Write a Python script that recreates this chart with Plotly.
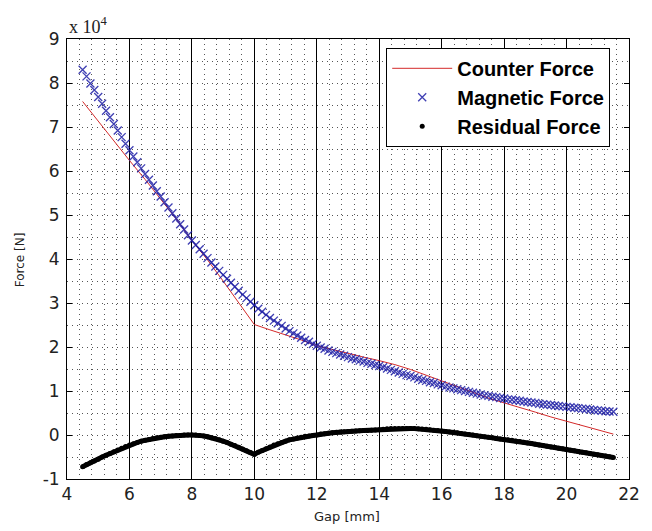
import plotly.graph_objects as go

# ---------------- data (Force in units of 1e4 N) ----------------
gap = [4.5, 4.625, 4.75, 4.875, 5.0, 5.125, 5.25, 5.375, 5.5, 5.625, 5.75, 5.875,
       6.0, 6.125, 6.25, 6.375, 6.5, 6.625, 6.75, 6.875, 7.0, 7.125, 7.25, 7.375,
       7.5, 7.625, 7.75, 7.875, 8.0, 8.125, 8.25, 8.375, 8.5, 8.625, 8.75, 8.875,
       9.0, 9.125, 9.25, 9.375, 9.5, 9.625, 9.75, 9.875, 10.0, 10.125, 10.25, 10.375,
       10.5, 10.625, 10.75, 10.875, 11.0, 11.125, 11.25, 11.375, 11.5, 11.625, 11.75,
       11.875, 12.0, 12.125, 12.25, 12.375, 12.5, 12.625, 12.75, 12.875, 13.0, 13.125,
       13.25, 13.375, 13.5, 13.625, 13.75, 13.875, 14.0, 14.125, 14.25, 14.375, 14.5,
       14.625, 14.75, 14.875, 15.0, 15.125, 15.25, 15.375, 15.5, 15.625, 15.75, 15.875,
       16.0, 16.125, 16.25, 16.375, 16.5, 16.625, 16.75, 16.875, 17.0, 17.125, 17.25,
       17.375, 17.5, 17.625, 17.75, 17.875, 18.0, 18.125, 18.25, 18.375, 18.5, 18.625,
       18.75, 18.875, 19.0, 19.125, 19.25, 19.375, 19.5, 19.625, 19.75, 19.875, 20.0,
       20.125, 20.25, 20.375, 20.5, 20.625, 20.75, 20.875, 21.0, 21.125, 21.25, 21.375,
       21.5]

magnetic_force = [8.30, 8.15, 7.99, 7.84, 7.68, 7.53, 7.37, 7.22, 7.07, 6.92, 6.77, 6.62,
                  6.47, 6.33, 6.20, 6.06, 5.93, 5.80, 5.67, 5.54, 5.42, 5.29, 5.17, 5.04,
                  4.92, 4.79, 4.67, 4.54, 4.42, 4.32, 4.22, 4.12, 4.02, 3.92, 3.83, 3.73,
                  3.64, 3.55, 3.46, 3.37, 3.28, 3.19, 3.11, 3.03, 2.95, 2.87, 2.80, 2.73,
                  2.66, 2.60, 2.54, 2.48, 2.42, 2.36, 2.31, 2.26, 2.21, 2.16, 2.12,
                  2.07, 2.03, 1.99, 1.96, 1.92, 1.89, 1.86, 1.83, 1.80, 1.77, 1.74,
                  1.72, 1.69, 1.67, 1.64, 1.62, 1.59, 1.57, 1.54, 1.51, 1.48, 1.45,
                  1.42, 1.39, 1.36, 1.34, 1.31, 1.28, 1.25, 1.23, 1.20, 1.18, 1.15,
                  1.13, 1.10, 1.08, 1.06, 1.04, 1.02, 1.00, 0.98, 0.96, 0.94, 0.92,
                  0.90, 0.89, 0.87, 0.86, 0.84, 0.83, 0.81, 0.80, 0.79, 0.78, 0.76,
                  0.75, 0.74, 0.73, 0.71, 0.70, 0.69, 0.68, 0.67, 0.66, 0.65, 0.64,
                  0.63, 0.62, 0.61, 0.60, 0.59, 0.58, 0.57, 0.56, 0.55, 0.54, 0.535,
                  0.53]

residual_force = [-0.72, -0.67, -0.63, -0.59, -0.55, -0.50, -0.46, -0.42, -0.38, -0.34,
                  -0.30, -0.26, -0.23, -0.20, -0.17, -0.14, -0.12, -0.10, -0.08, -0.06,
                  -0.05, -0.04, -0.03, -0.02, -0.01, -0.01, 0.00, 0.00, 0.00, 0.00,
                  -0.01, -0.02, -0.04, -0.06, -0.08, -0.11, -0.14, -0.17, -0.21, -0.24,
                  -0.28, -0.32, -0.36, -0.40, -0.44, -0.39, -0.35, -0.31, -0.27, -0.23,
                  -0.20, -0.17, -0.14, -0.11, -0.09, -0.07, -0.05, -0.03, -0.02, -0.01,
                  0.00, 0.02, 0.03, 0.04, 0.05, 0.06, 0.07, 0.075, 0.08, 0.085,
                  0.09, 0.095, 0.10, 0.105, 0.11, 0.115, 0.12, 0.13, 0.14, 0.145, 0.15,
                  0.15, 0.15, 0.15, 0.15, 0.145, 0.14, 0.135, 0.13, 0.12, 0.11, 0.10,
                  0.09, 0.08, 0.07, 0.06, 0.05, 0.035, 0.02, 0.01, 0.00, -0.015, -0.03,
                  -0.04, -0.05, -0.065, -0.08, -0.09, -0.10, -0.11, -0.12, -0.135, -0.15,
                  -0.165, -0.18, -0.195, -0.21, -0.225, -0.24, -0.255, -0.27, -0.285,
                  -0.30, -0.315, -0.33, -0.345, -0.36, -0.375, -0.39, -0.405, -0.42,
                  -0.435, -0.45, -0.465, -0.48, -0.495, -0.51]

gap_counter = [4.5, 5.0, 5.5, 6.0, 6.5, 7.0, 7.5, 8.0, 8.5, 9.0, 9.5, 10.0, 10.5, 11.0,
               11.5, 12.0, 12.5, 13.0, 13.5, 14.0, 14.5, 15.0, 15.5, 16.0, 16.5, 17.0,
               17.5, 18.0, 18.5, 19.0, 19.5, 20.0, 20.5, 21.0, 21.5]
counter_force = [7.58, 7.13, 6.69, 6.24, 5.81, 5.37, 4.91, 4.42, 3.98, 3.50, 3.00, 2.51,
                 2.39, 2.28, 2.16, 2.03, 1.94, 1.85, 1.77, 1.69, 1.60, 1.49, 1.36, 1.22,
                 1.09, 0.96, 0.84, 0.73, 0.63, 0.52, 0.41, 0.31, 0.21, 0.11, 0.02]

x_ticks = [4, 6, 8, 10, 12, 14, 16, 18, 20, 22]
y_ticks = [-1, 0, 1, 2, 3, 4, 5, 6, 7, 8, 9]

assert len(gap) == len(magnetic_force) == len(residual_force)
assert len(gap_counter) == len(counter_force)

# ---------------- figure ----------------
fig = go.Figure()

fig.add_trace(go.Scatter(
    x=gap_counter, y=counter_force, mode="lines", name="Counter Force",
    line=dict(color="#d42a2a", width=1)))

fig.add_trace(go.Scatter(
    x=gap, y=magnetic_force, mode="markers", name="Magnetic Force",
    marker=dict(symbol="x-thin", size=8, opacity=0.85,
                line=dict(color="#1e1ea6", width=1.3))))

fig.add_trace(go.Scatter(
    x=gap, y=residual_force, mode="lines", showlegend=False,
    line=dict(color="black", width=5), hoverinfo="skip"))
fig.add_trace(go.Scatter(
    x=gap, y=residual_force, mode="markers", name="Residual Force",
    marker=dict(symbol="circle", size=5, color="black")))

dot = "1px,4px"
gridc = "#555555"
tickfont = dict(family="DejaVu Sans", size=17, color="#222")

fig.update_xaxes(
    range=[4, 22], tickvals=x_ticks, ticktext=[str(v) for v in x_ticks],
    showline=True, linecolor="black", linewidth=1, mirror="ticks",
    ticks="inside", ticklen=5, tickcolor="black",
    showgrid=True, gridcolor="black", gridwidth=1,
    minor=dict(dtick=0.4, tick0=4, showgrid=True, gridcolor=gridc,
               griddash=dot, gridwidth=1, ticks=""),
    zeroline=False, tickfont=tickfont)

fig.update_yaxes(
    range=[-1, 9], tickvals=y_ticks, ticktext=[str(v) for v in y_ticks],
    showline=True, linecolor="black", linewidth=1, mirror="ticks",
    ticks="inside", ticklen=5, tickcolor="black",
    showgrid=True, gridcolor=gridc, griddash=dot, gridwidth=1,
    minor=dict(dtick=0.5, tick0=-1, showgrid=True, gridcolor=gridc,
               griddash=dot, gridwidth=1, ticks=""),
    zeroline=False, tickfont=tickfont, ticklabelstandoff=3)

fig.update_layout(
    width=652, height=531,
    margin=dict(l=67, r=20, t=39, b=52),
    paper_bgcolor="white", plot_bgcolor="white",
    showlegend=True,
    legend=dict(x=0.568, y=0.98, xanchor="left", yanchor="top",
                bgcolor="white", bordercolor="black", borderwidth=1,
                font=dict(family="Liberation Sans", size=20, color="black", weight="bold"),
                itemwidth=60, tracegroupgap=0),
    annotations=[
        dict(text="x 10<sup>4</sup>", xref="paper", yref="paper", x=0.0, y=1.03,
             xanchor="left", yanchor="middle", showarrow=False,
             font=dict(family="Liberation Serif", size=18, color="#222")),
        dict(text="Gap [mm]", xref="paper", yref="paper", x=0.499, y=-0.086,
             xanchor="center", yanchor="middle", showarrow=False,
             font=dict(family="DejaVu Sans", size=13, color="#222")),
        dict(text="Force [N]", xref="paper", yref="paper", x=-0.083, y=0.498,
             xanchor="center", yanchor="middle", showarrow=False, textangle=-90,
             font=dict(family="DejaVu Sans", size=12, color="#222")),
    ],
)

fig.write_html("out.html")
